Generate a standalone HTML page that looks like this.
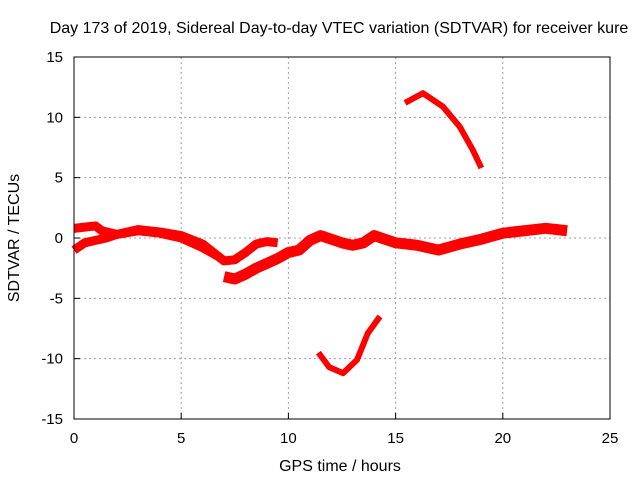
<!DOCTYPE html>
<html><head><meta charset="utf-8"><style>
body{margin:0;background:#fff}
svg text{font-family:"Liberation Sans",sans-serif;font-size:16px;fill:#000}
svg text.tk{font-size:15px}
</style></head><body>
<svg id="chart" width="640" height="480" viewBox="0 0 640 480" xmlns="http://www.w3.org/2000/svg">
<rect width="640" height="480" fill="#fff"/>
<text x="339" y="33" text-anchor="middle">Day 173 of 2019, Sidereal Day-to-day VTEC variation (SDTVAR) for receiver kure</text>
<g id="grid"></g><g id="series"></g>
<rect x="74" y="57" width="536" height="362" fill="none" stroke="#000" stroke-width="1"/>
<g id="ticks"></g>
<text x="340" y="471" text-anchor="middle">GPS time / hours</text>
<text transform="translate(19,238) rotate(-90)" text-anchor="middle">SDTVAR / TECUs</text>
</svg>
<script>
const xTicks=[0,5,10,15,20,25];
const yTicks=[-15,-10,-5,0,5,10,15];
const s1Hours=[0,0.5,1,1.3,2,3,4,5,6,7,7.5,8,8.5,9,9.5];
const s1Vals=[0.8,0.9,1.0,0.6,0.3,0.7,0.5,0.2,-0.5,-1.9,-1.8,-1.2,-0.5,-0.3,-0.4];
const s2Hours=[0,0.5,1,1.5,2,3,4,5,6,6.8];
const s2Vals=[-1.0,-0.4,-0.2,0,0.3,0.6,0.4,0,-0.8,-1.6];
const s3Hours=[7,7.5,8,8.5,9,9.5,10,10.5,11,11.5,12,12.5,13,13.5,14,14.5,15,16,17,18,19,20,21,22,23];
const s3Vals=[-3.2,-3.4,-3.0,-2.5,-2.1,-1.7,-1.2,-1.0,-0.2,0.2,-0.1,-0.4,-0.6,-0.4,0.2,-0.1,-0.4,-0.6,-1.0,-0.5,-0.1,0.4,0.6,0.8,0.6];
const arcUpHours=[15.44,16.28,17.2,18.0,18.6,19.0];
const arcUpVals=[11.2,12.0,10.9,9.2,7.3,5.8];
const arcLoHours=[11.4,11.9,12.55,13.2,13.7,14.27];
const arcLoVals=[-9.5,-10.7,-11.2,-10.1,-7.9,-6.5];
const X=h=>74+h*536/25, Y=v=>238-v*362/30;
const NS="http://www.w3.org/2000/svg";
function mk(t,a,p){const e=document.createElementNS(NS,t);for(const k in a)e.setAttribute(k,a[k]);p.appendChild(e);return e;}
const grid=document.getElementById('grid'),ticks=document.getElementById('ticks'),ser=document.getElementById('series');
xTicks.forEach(t=>{
 if(t>0&&t<25){const l=mk('line',{x1:X(t),x2:X(t),y1:57,y2:419,stroke:'#a0a0a0','stroke-dasharray':'2,3'},grid);
 
 }
 const tk=mk('line',{x1:X(t),x2:X(t),y1:419,y2:413,stroke:'#000'},ticks);
 
 
 const tx=mk('text',{x:X(t),y:443,'text-anchor':'middle',class:'tk'},ticks);tx.textContent=t;
 
 
});
yTicks.forEach(t=>{
 if(t>-15&&t<15){const l=mk('line',{x1:74,x2:610,y1:Y(t),y2:Y(t),stroke:'#a0a0a0','stroke-dasharray':'2,3'},grid);
 
 }
 const tk=mk('line',{x1:74,x2:80,y1:Y(t),y2:Y(t),stroke:'#000'},ticks);
 
 
 const tx=mk('text',{x:63,y:Y(t)+5,'text-anchor':'end',class:'tk'},ticks);tx.textContent=t;
 
 
});
function line(hs,vs,w,name){
 const p=mk('polyline',{points:hs.map((h,i)=>X(h)+','+Y(vs[i])).join(' '),fill:'none',stroke:'#ff0000','stroke-width':w,'stroke-linejoin':'round','stroke-linecap':'butt'},ser);
 
 
}
line(s1Hours,s1Vals,9,'series-upper-strand');
line(s2Hours,s2Vals,9,'series-lower-strand');
line(s3Hours,s3Vals,11,'series-main-band');
line(arcUpHours,arcUpVals,6,'series-upper-arc');
line(arcLoHours,arcLoVals,6,'series-lower-arc');
</script>
</body></html>
